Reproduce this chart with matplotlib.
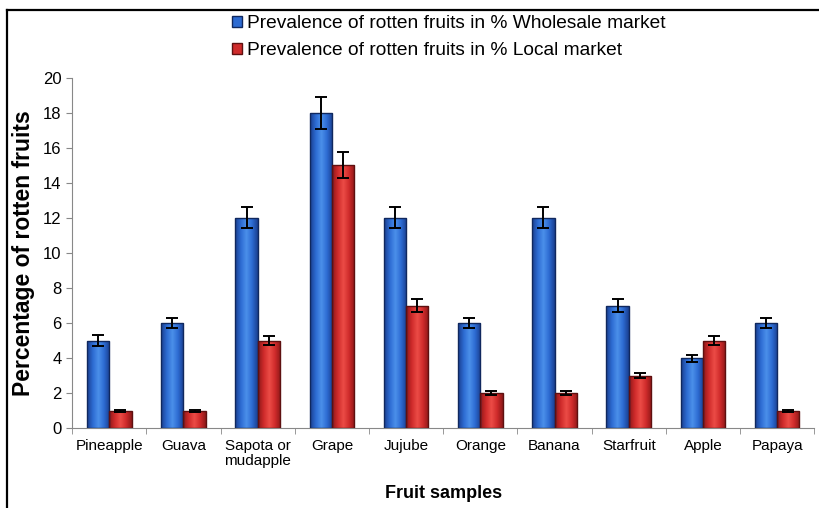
import numpy as np
import matplotlib
matplotlib.use("Agg")
import matplotlib.pyplot as plt
from matplotlib.colors import LinearSegmentedColormap
from matplotlib.lines import Line2D
from matplotlib.patches import Patch

plt.rcParams['font.family'] = ['Liberation Sans', 'DejaVu Sans']

# Fruit samples and prevalence of rotten fruits (%)
fruits = ["Pineapple", "Guava", "Sapota or\nmudapple", "Grape", "Jujube",
          "Orange", "Banana", "Starfruit", "Apple", "Papaya"]
wholesale = [5, 6, 12, 18, 12, 6, 12, 7, 4, 6]
wholesale_err = [0.3, 0.3, 0.6, 0.9, 0.6, 0.3, 0.6, 0.35, 0.2, 0.3]
local = [1, 1, 5, 15, 7, 2, 2, 3, 5, 1]
local_err = [0.05, 0.05, 0.25, 0.75, 0.35, 0.1, 0.1, 0.15, 0.25, 0.05]

series_names = ["Prevalence of rotten fruits in % Wholesale market",
                "Prevalence of rotten fruits in % Local market"]

blue_cmap = LinearSegmentedColormap.from_list(
    "bluecyl", ["#1a3f90", "#2d6bd2", "#4b90ea", "#2d6bd2", "#1a3f90"])
red_cmap = LinearSegmentedColormap.from_list(
    "redcyl", ["#8e1818", "#cf2b2b", "#ec4c46", "#cf2b2b", "#8e1818"])


def shaded_bars(ax, xpos, heights, width, cmap, edge):
    bars = ax.bar(xpos, heights, width, color="none", edgecolor=edge,
                  linewidth=1.0, zorder=3)
    grad = np.linspace(0, 1, 64).reshape(1, -1)
    for b in bars:
        x0, w, h = b.get_x(), b.get_width(), b.get_height()
        im = ax.imshow(grad, cmap=cmap, aspect="auto",
                       extent=(x0, x0 + w, 0, h), zorder=2)
        im.set_clip_path(b)
    return bars


fig = plt.figure(figsize=(8.2, 5.08), dpi=100)
ax = fig.add_axes([0.088, 0.157, 0.905, 0.69])

x = np.arange(len(fruits))
w = 0.3
shaded_bars(ax, x - w / 2, wholesale, w, blue_cmap, "#10285e")
shaded_bars(ax, x + w / 2, local, w, red_cmap, "#5e1010")
ax.errorbar(x - w / 2, wholesale, yerr=wholesale_err, fmt="none",
            ecolor="black", elinewidth=1.4, capsize=4, capthick=1.4, zorder=4)
ax.errorbar(x + w / 2, local, yerr=local_err, fmt="none",
            ecolor="black", elinewidth=1.4, capsize=4, capthick=1.4, zorder=4)

ax.set_xlim(-0.5, len(fruits) - 0.5)
ax.set_ylim(0, 20)
ax.set_yticks(np.arange(0, 21, 2))
ax.tick_params(axis="y", labelsize=12, length=4, color="#888888")
ax.set_xticks(x)
ax.set_xticklabels(fruits, fontsize=11, linespacing=1.1)
ax.tick_params(axis="x", length=0, pad=8)
ax.set_xticks(np.arange(-0.5, len(fruits), 1), minor=True)
ax.tick_params(axis="x", which="minor", length=4, color="#888888")

for side in ["top", "right"]:
    ax.spines[side].set_visible(False)
for side in ["left", "bottom"]:
    ax.spines[side].set_color("#888888")

ax.set_ylabel("Percentage of rotten fruits", fontsize=16.5,
              fontweight="bold", labelpad=6)
ax.set_xlabel("Fruit samples", fontsize=13, fontweight="bold", labelpad=12)

handles = [Patch(facecolor="#2d6bd2", edgecolor="#10285e"),
           Patch(facecolor="#cf2b2b", edgecolor="#5e1010")]
fig.legend(handles, series_names, loc="upper left",
           bbox_to_anchor=(0.262, 1.004), frameon=False, fontsize=13.8,
           handlelength=0.5, handleheight=0.5, handletextpad=0.3,
           labelspacing=0.52)

# frame lines along the left and top edges
fig.add_artist(Line2D([0.009, 0.009], [0, 0.98], transform=fig.transFigure,
                      color="black", linewidth=1.6))
fig.add_artist(Line2D([0.009, 1.0], [0.98, 0.98], transform=fig.transFigure,
                      color="black", linewidth=1.6))

fig.savefig("out.png", dpi=100)
